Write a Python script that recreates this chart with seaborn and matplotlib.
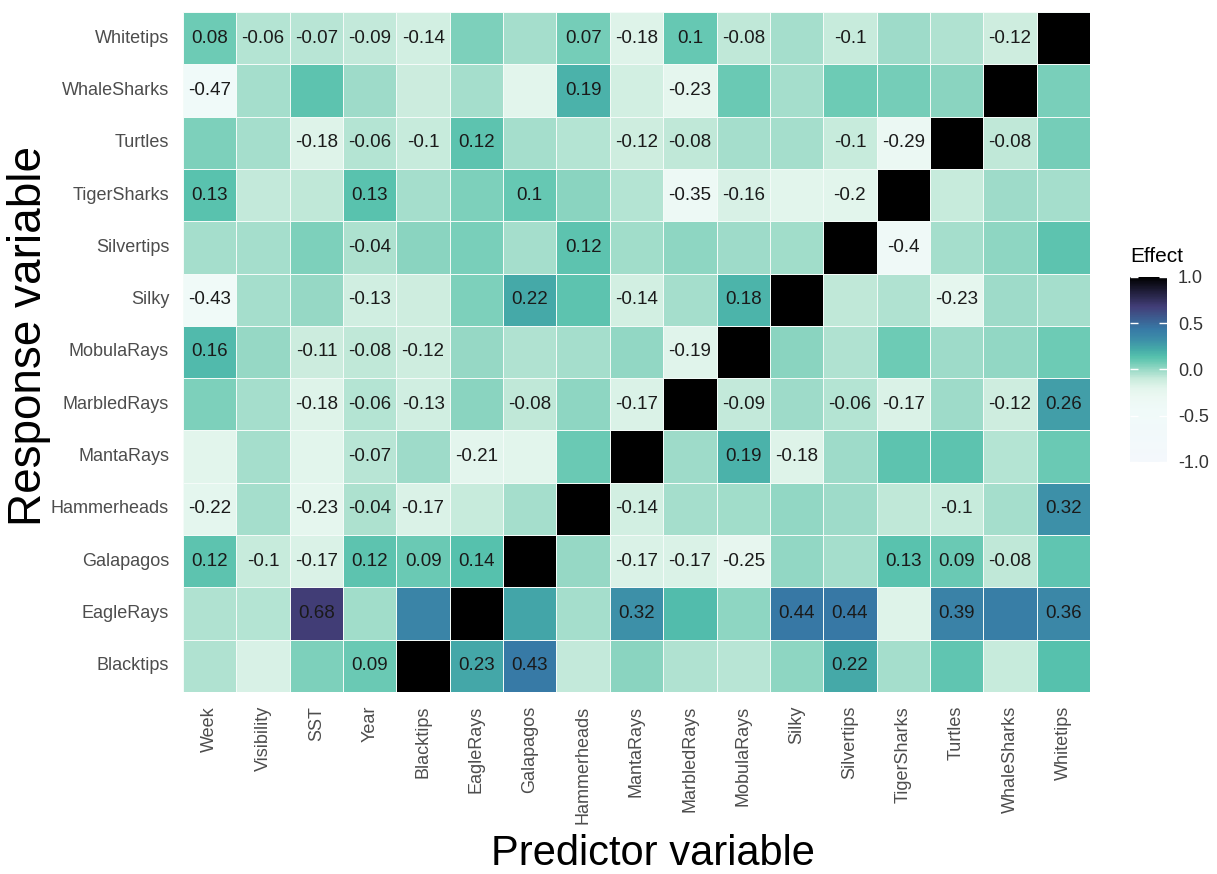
import numpy as np
import pandas as pd
import matplotlib
matplotlib.use("Agg")
import matplotlib.pyplot as plt
import seaborn as sns
from matplotlib.colors import LinearSegmentedColormap

predictors = ["Week", "Visibility", "SST", "Year", "Blacktips", "EagleRays", "Galapagos",
              "Hammerheads", "MantaRays", "MarbledRays", "MobulaRays", "Silky", "Silvertips",
              "TigerSharks", "Turtles", "WhaleSharks", "Whitetips"]
responses = ["Whitetips", "WhaleSharks", "Turtles", "TigerSharks", "Silvertips", "Silky",
             "MobulaRays", "MarbledRays", "MantaRays", "Hammerheads", "Galapagos",
             "EagleRays", "Blacktips"]

# effect sizes per response (columns follow predictors); diagonal = 1
whitetips = [0.08, -0.06, -0.07, -0.09, -0.14, 0.05, -0.03, 0.07, -0.18, 0.10, -0.08, -0.03, -0.10, -0.01, -0.05, -0.12, 1]
whalesharks = [-0.47, -0.03, 0.12, -0.01, -0.11, -0.03, -0.20, 0.19, -0.14, -0.23, 0.09, -0.03, 0.08, 0.07, 0.03, 1, 0.06]
turtles = [0.05, -0.03, -0.18, -0.06, -0.10, 0.12, -0.03, -0.06, -0.12, -0.08, -0.03, -0.03, -0.10, -0.29, 1, -0.08, 0.07]
tigersharks = [0.13, -0.09, -0.08, 0.13, -0.03, 0.05, 0.10, 0.03, -0.06, -0.35, -0.16, -0.20, -0.20, 1, -0.10, -0.01, -0.03]
silvertips = [-0.03, -0.03, 0.05, -0.04, 0.03, 0.06, -0.03, 0.12, -0.02, 0.02, -0.01, -0.02, 1, -0.40, -0.03, 0.02, 0.12]
silky = [-0.43, -0.03, 0.00, -0.13, -0.12, 0.05, 0.22, 0.12, -0.14, -0.03, 0.18, 1, -0.08, -0.05, -0.23, -0.01, -0.03]
mobularays = [0.16, 0.00, -0.11, -0.08, -0.12, 0.00, -0.05, -0.03, 0.01, -0.19, 1, 0.03, -0.05, 0.08, -0.01, 0.01, 0.08]
marbledrays = [0.05, -0.03, -0.18, -0.06, -0.13, 0.03, -0.08, 0.02, -0.17, 1, -0.09, -0.01, -0.06, -0.17, -0.01, -0.12, 0.26]
mantarays = [-0.20, -0.03, -0.20, -0.07, -0.01, -0.21, -0.20, 0.09, 1, -0.01, 0.19, -0.18, -0.01, 0.12, 0.12, -0.06, 0.09]
hammerheads = [-0.22, -0.03, -0.23, -0.04, -0.17, -0.10, -0.03, 1, -0.14, -0.03, -0.02, 0.01, -0.01, -0.08, -0.10, -0.03, 0.32]
galapagos = [0.12, -0.10, -0.17, 0.12, 0.09, 0.14, 1, 0.00, -0.17, -0.17, -0.25, 0.01, -0.03, 0.13, 0.09, -0.08, 0.11]
eaglerays = [-0.05, -0.06, 0.68, -0.02, 0.38, 1, 0.24, -0.03, 0.32, 0.15, 0.02, 0.44, 0.44, -0.18, 0.39, 0.41, 0.36]
blacktips = [-0.05, -0.16, 0.05, 0.09, 1, 0.23, 0.43, -0.09, 0.03, -0.05, -0.07, 0.02, 0.22, -0.03, 0.11, -0.10, 0.14]

# 1 = value printed in the cell
whitetips_sig = [1, 1, 1, 1, 1, 0, 0, 1, 1, 1, 1, 0, 1, 0, 0, 1, 0]
whalesharks_sig = [1, 0, 0, 0, 0, 0, 0, 1, 0, 1, 0, 0, 0, 0, 0, 0, 0]
turtles_sig = [0, 0, 1, 1, 1, 1, 0, 0, 1, 1, 0, 0, 1, 1, 0, 1, 0]
tigersharks_sig = [1, 0, 0, 1, 0, 0, 1, 0, 0, 1, 1, 0, 1, 0, 0, 0, 0]
silvertips_sig = [0, 0, 0, 1, 0, 0, 0, 1, 0, 0, 0, 0, 0, 1, 0, 0, 0]
silky_sig = [1, 0, 0, 1, 0, 0, 1, 0, 1, 0, 1, 0, 0, 0, 1, 0, 0]
mobularays_sig = [1, 0, 1, 1, 1, 0, 0, 0, 0, 1, 0, 0, 0, 0, 0, 0, 0]
marbledrays_sig = [0, 0, 1, 1, 1, 0, 1, 0, 1, 0, 1, 0, 1, 1, 0, 1, 1]
mantarays_sig = [0, 0, 0, 1, 0, 1, 0, 0, 0, 0, 1, 1, 0, 0, 0, 0, 0]
hammerheads_sig = [1, 0, 1, 1, 1, 0, 0, 0, 1, 0, 0, 0, 0, 0, 1, 0, 1]
galapagos_sig = [1, 1, 1, 1, 1, 1, 0, 0, 1, 1, 1, 0, 0, 1, 1, 1, 0]
eaglerays_sig = [0, 0, 1, 0, 0, 0, 0, 0, 1, 0, 0, 1, 1, 0, 1, 0, 1]
blacktips_sig = [0, 0, 0, 1, 0, 1, 1, 0, 0, 0, 0, 0, 1, 0, 0, 0, 0]

values = [whitetips, whalesharks, turtles, tigersharks, silvertips, silky, mobularays,
          marbledrays, mantarays, hammerheads, galapagos, eaglerays, blacktips]
sig = [whitetips_sig, whalesharks_sig, turtles_sig, tigersharks_sig, silvertips_sig, silky_sig,
       mobularays_sig, marbledrays_sig, mantarays_sig, hammerheads_sig, galapagos_sig,
       eaglerays_sig, blacktips_sig]

df = pd.DataFrame(values, index=responses, columns=predictors)
labels = [[format(v, "g") if s else "" for v, s in zip(vr, sr)] for vr, sr in zip(values, sig)]

stops = [(-1.0, "#f4f8fc"), (-0.45, "#f0faf9"), (-0.3, "#ecf8f3"), (-0.2, "#e2f5ec"),
         (-0.1, "#c8ebdc"), (0.0, "#98d9c6"), (0.08, "#6ecbb5"), (0.14, "#55c0ad"),
         (0.22, "#45aaa8"), (0.32, "#3d8fa8"), (0.44, "#3779a6"), (0.68, "#423e78"),
         (1.0, "#000000")]
cmap = LinearSegmentedColormap.from_list("effect", [((v + 1) / 2, c) for v, c in stops])

plt.rcParams["font.family"] = ["Liberation Sans", "DejaVu Sans"]

fig = plt.figure(figsize=(12.17, 8.74), dpi=100)
ax = fig.add_axes([183 / 1217, 1 - 692 / 874, 907 / 1217, 680 / 874])
cax = fig.add_axes([1130 / 1217, 1 - 462 / 874, 37 / 1217, 185 / 874])

sns.heatmap(df, cmap=cmap, vmin=-1, vmax=1, annot=labels, fmt="",
            annot_kws={"fontsize": 13.5, "color": "#1a1a1a"},
            linewidths=0.5, linecolor="#f4fbf8", ax=ax, cbar_ax=cax)

ax.tick_params(length=0, labelsize=13, labelcolor="#4d4d4d")
ax.tick_params(axis="y", pad=10)
ax.tick_params(axis="x", pad=10)
plt.setp(ax.get_xticklabels(), rotation=90)
plt.setp(ax.get_yticklabels(), rotation=0)
ax.set_xlabel("")
ax.set_ylabel("")

cbar = ax.collections[0].colorbar
cbar.outline.set_visible(False)
cbar.set_ticks([-1, -0.5, 0, 0.5, 1])
cbar.set_ticklabels(["-1.0", "-0.5", "0.0", "0.5", "1.0"])
cax.tick_params(direction="in", length=6, width=1, color="white", left=True, right=True,
                labelsize=13, labelcolor="#333333", pad=8)

fig.text(1130 / 1217, 1 - 256 / 874, "Effect", fontsize=15, ha="left", va="center")
fig.text(29 / 1217, 1 - 336 / 874, "Response variable", fontsize=33, rotation=90,
         ha="center", va="center")
fig.text(653 / 1217, 1 - 854 / 874, "Predictor variable", fontsize=30, ha="center", va="center")

fig.savefig("out.png", dpi=100)
